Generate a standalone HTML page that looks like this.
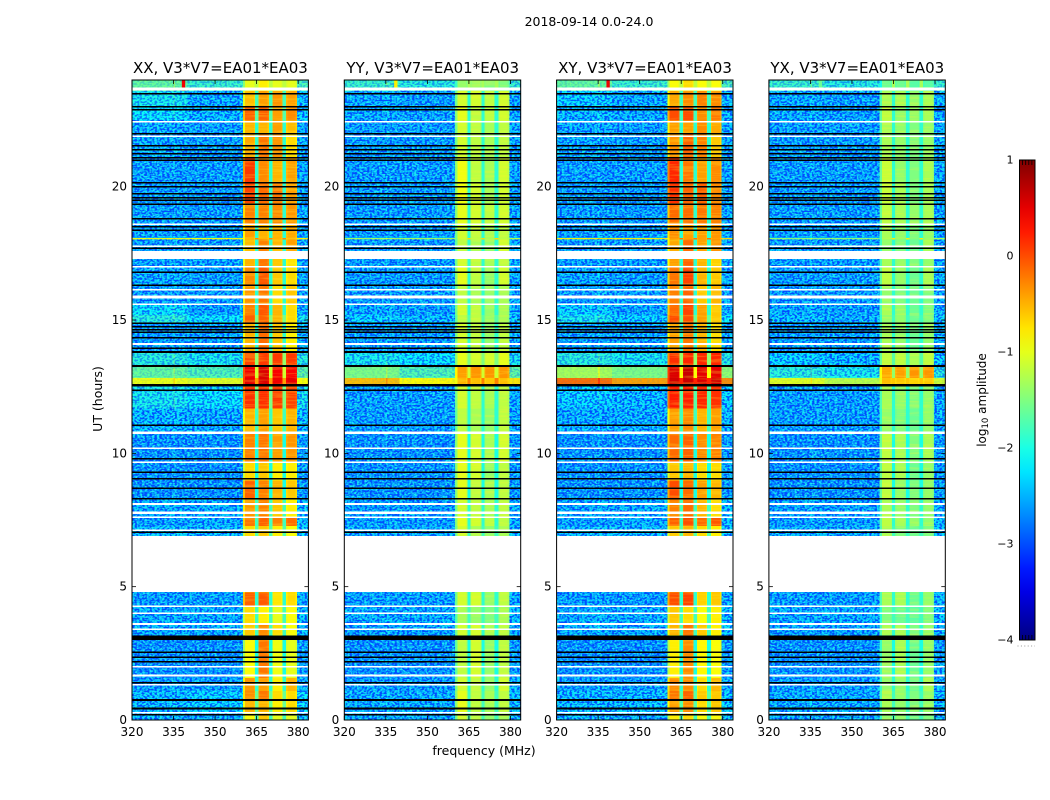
<!DOCTYPE html>
<html lang="en">
<head>
<meta charset="utf-8">
<title>2018-09-14 amplitude spectrogram</title>
<style>
html,body{margin:0;padding:0;background:#fff;}
body{width:1050px;height:800px;overflow:hidden;}
svg{display:block;}
text{font-family:"DejaVu Sans","Liberation Sans",sans-serif;fill:#000;}
</style>
</head>
<body>
<svg id="chart" xmlns="http://www.w3.org/2000/svg" width="1050" height="800" viewBox="0 0 1050 800">
  <defs>
    <filter id="speckle-dark" filterUnits="userSpaceOnUse" x="0" y="0" width="1050" height="800" color-interpolation-filters="sRGB">
      <feTurbulence type="fractalNoise" baseFrequency="0.4 0.55" numOctaves="1" seed="4"/>
      <feColorMatrix type="matrix" values="0 0 0 0 0  0 0 0 0 0.28  0 0 0 0 1  7 0 0 0 -3.2"/>
      <feComposite in2="SourceGraphic" operator="in"/>
    </filter>
    <filter id="speckle-light" filterUnits="userSpaceOnUse" x="0" y="0" width="1050" height="800" color-interpolation-filters="sRGB">
      <feTurbulence type="fractalNoise" baseFrequency="0.42 0.58" numOctaves="1" seed="11"/>
      <feColorMatrix type="matrix" values="0 0 0 0 0.1  0 0 0 0 0.92  0 0 0 0 0.95  7 0 0 0 -3.2"/>
      <feComposite in2="SourceGraphic" operator="in"/>
    </filter>
    <filter id="band-streaks" filterUnits="userSpaceOnUse" x="0" y="0" width="1050" height="800" color-interpolation-filters="sRGB">
      <feTurbulence type="fractalNoise" baseFrequency="0.03 0.45" numOctaves="2" seed="7"/>
      <feColorMatrix type="matrix" values="0 0 0 0 1  0 0 0 0 0.95  0 0 0 0 0.2  5 0 0 0 -2.4"/>
      <feComposite in2="SourceGraphic" operator="in"/>
    </filter>
    <linearGradient id="colorbar-gradient" x1="0" y1="1" x2="0" y2="0"></linearGradient>
  </defs>
  <text x="589" y="26" font-size="12.5" text-anchor="middle">2018-09-14 0.0-24.0</text>
  <g id="panels"></g>
  <text transform="translate(102,399) rotate(-90)" font-size="12.5" text-anchor="middle">UT (hours)</text>
  <text x="484" y="755" font-size="12.5" text-anchor="middle">frequency (MHz)</text>
  <g id="colorbar"></g>
  <text transform="translate(986,400) rotate(-90)" font-size="12" text-anchor="middle">log<tspan font-size="8.5" dy="2">10</tspan><tspan dy="-2"> amplitude</tspan></text>
</svg>
<script>
// Axis tick labels
const freqTicks = [320, 335, 350, 365, 380];
const timeTicks = [0, 5, 10, 15, 20];
const colorTicks = [1, 0, -1, -2, -3, -4];
const panelTitles = ["XX, V3*V7=EA01*EA03", "YY, V3*V7=EA01*EA03", "XY, V3*V7=EA01*EA03", "YX, V3*V7=EA01*EA03"];

// UT hour boundaries of the time segments
const segmentEdges = [0,.3,.75,1.1,1.6,3,3.2,3.6,4.3,4.8,6.9,7.3,7.6,8.3,9,9.7,10.8,11.7,12.35,12.55,12.85,13.3,13.8,14.9,15.2,15.6,16.3,17,17.6,18.03,18.1,18.6,19.4,20.2,21.1,22,22.5,23,23.6,24];

// Frequency boundaries (MHz), the series each frequency column reads, and its level offset
const channelEdges = [320,335,335.6,340,350,360,360.8,364,364.4,365.6,366,369,369.5,370.7,371,374,374.3,375.7,376.2,379,379.6,384];
const channelSeries = [0,0,0,1,1,2,2,2,1,3,3,3,1,4,4,4,1,5,5,5,1];
const channelOffset = [0,.25,0,0,0,-.45,0,-.1,.6,-.1,0,-.1,.6,-.1,0,-.1,.6,-.1,0,-.1,.1];

// Flagged UT ranges
const blackFlags = [[.18,.22],[.42,.46],[.74,.78],[1.38,1.42],[2.18,2.22],[2.35,2.39],[2.53,2.57],[3,3.17],[7.03,7.07],[8.28,8.32],[8.68,8.72],[9.03,9.07],[9.28,9.32],[9.78,9.82],[11.02,11.08],[12.33,12.4],[12.5,12.6],[13.24,13.32],[13.79,13.83],[13.93,13.97],[14.33,14.37],[14.53,14.57],[14.63,14.67],[14.73,14.77],[14.85,14.91],[16.28,16.34],[16.78,16.82],[17.68,17.72],[18.35,18.39],[18.48,18.52],[18.78,18.82],[19.33,19.37],[19.48,19.52],[19.58,19.62],[19.73,19.77],[19.98,20.02],[20.13,20.17],[20.98,21.02],[21.08,21.12],[21.23,21.27],[21.38,21.42],[21.53,21.57],[21.98,22.02],[22.88,22.92],[22.98,23.02],[23.48,23.52]];
const whiteFlags = [[.26,.3],[1.29,1.35],[1.63,1.7],[1.99,2.03],[3.38,3.44],[3.59,3.63],[3.99,4.03],[4.25,4.29],[4.8,6.9],[7.11,7.15],[7.59,7.63],[7.73,7.81],[8.09,8.13],[9.65,9.69],[10.18,10.22],[10.73,10.81],[14.09,14.13],[15.58,15.62],[15.81,15.91],[16.13,16.17],[16.99,17.03],[17.28,17.58],[17.75,17.79],[18.58,18.62],[21.88,21.92],[22.43,22.47],[23.6,23.71]];

// Spike near the top of each panel: frequency (MHz), start hour, level per panel
const spikeFreq = [338, 339.2];
const spikeHours = [23.6, 24];
const spikeLevels = [0.45, -0.8, 0.45, -1.6];

// XX levels, log10 amplitude, per time segment
const xxLowL = [-2.3,-2.3,-2.3,-2.5,-2.6,-2.6,-2.4,-2.4,-2.5,-2.5,-2.3,-2.5,-2.4,-2.6,-2.6,-2.6,-2.3,-2,-2,-.95,-1.6,-1.9,-2.5,-1.9,-2.1,-2.5,-2.4,-2.5,-2.5,-.9,-2.5,-2.5,-2.5,-2.5,-2.4,-2.4,-2.1,-2,-1.6];
const xxLowR = [-2.4,-2.2,-2.2,-2.5,-2.6,-2.6,-2.4,-2.4,-2.5,-2.5,-2.3,-2.4,-2.4,-2.6,-2.6,-2.6,-2.4,-2.1,-2.1,-1,-1.7,-2,-2.5,-2.1,-2.5,-2.5,-2.5,-2.5,-2.5,-.9,-2.5,-2.5,-2.5,-2.5,-2.5,-2.5,-2.3,-2.4,-1.8];
const xxA = [-.9,-.5,-.3,-.35,-.9,-.9,-.6,-.7,-.1,-.5,-.7,-.2,-.35,-.1,-.7,-.25,-.5,.15,.15,.5,.45,.05,-.5,-.1,-.25,-.35,-.3,-.5,-.55,-.5,-.4,-.25,.05,.1,-.45,-.5,-.1,-.55,-1];
const xxB = [-.6,-.5,-.2,-.4,-.2,-.2,-.3,-.8,-.05,-.5,-.6,-.1,-.25,-.25,-.6,-.2,-.4,.15,.15,.55,.55,.1,-.15,-.1,-.05,-.2,-.05,-.2,-.25,-.5,-.5,-.25,-.15,-.3,-.2,-.5,-.1,-.4,-.8];
const xxC = [-1,-.8,-.7,-.8,-.95,-.95,-.7,-1,-.75,-.7,-.8,-.25,-.6,-.5,-.8,-.4,-.6,.1,.1,.45,.4,.1,-.6,-.5,-.5,-.7,-.6,-.6,-.5,-.5,-.5,-.3,-.2,-.5,-.35,-.4,-.4,-.35,-1];
const xxD = [-1,-.7,-.7,-.5,-1,-1,-.9,-.9,-.7,-.7,-.9,-.15,-.8,-.6,-.8,-.35,-.5,.05,.05,.5,.4,.1,-.8,-.7,-.7,-.6,-.7,-.75,-.4,-.5,-.45,-.35,-.4,-.4,-.7,-.55,-.3,-.4,-1];

// YY levels
const yyLowL = [-2.4,-2.4,-2.4,-2.5,-2.6,-2.6,-2.5,-2.4,-2.5,-2.5,-2.4,-2.5,-2.5,-2.6,-2.6,-2.6,-2.5,-2.5,-2.5,-.55,-1.5,-2,-2.5,-2.2,-2.4,-2.5,-2.5,-2.5,-2.5,-1.3,-2.5,-2.5,-2.5,-2.5,-2.5,-2.5,-2.4,-2.4,-1.8];
const yyLowR = [-2.4,-2.4,-2.4,-2.5,-2.6,-2.6,-2.5,-2.4,-2.5,-2.5,-2.4,-2.5,-2.5,-2.6,-2.6,-2.6,-2.5,-2.5,-2.5,-.85,-1.7,-2.1,-2.5,-2.3,-2.5,-2.5,-2.5,-2.5,-2.5,-1.3,-2.5,-2.5,-2.5,-2.5,-2.5,-2.5,-2.5,-2.5,-1.9];
const yyA = [-1.1,-1,-1,-1.1,-1.2,-1.2,-1.1,-1.3,-1.1,-1.2,-1.1,-1,-1.1,-1,-1,-1,-1.2,-1.1,-1.1,-.5,-.4,-1,-1.1,-1.2,-1.1,-1.2,-1,-1.1,-1.2,-1.1,-1.1,-1,-.95,-.95,-1.1,-1.1,-1,-1.1,-1.4];
const yyB = [-1.2,-1.2,-1.2,-1.2,-1.1,-1.1,-1.1,-1.4,-1.1,-1.2,-1.3,-1.1,-1.2,-1.2,-1.1,-1.1,-1.3,-1.2,-1.2,-.55,-.35,-1.1,-1.2,-1.2,-1.2,-1.3,-1.2,-1.2,-1.3,-1.2,-1.2,-1.1,-1.1,-1.2,-1.2,-1.2,-1.2,-1.1,-1.4];
const yyC = [-1.4,-1.3,-1.3,-1.4,-1.4,-1.4,-1.3,-1.5,-1.4,-1.3,-1.4,-1.2,-1.3,-1.3,-1.4,-1.3,-1.4,-1.3,-1.3,-.6,-.35,-1.1,-1.4,-1.4,-1.4,-1.4,-1.4,-1.3,-1.4,-1.3,-1.3,-1.2,-1.3,-1.3,-1.3,-1.3,-1.2,-1.2,-1.5];
const yyD = [-1.3,-1.2,-1.2,-1.1,-1.2,-1.2,-1.2,-1.3,-1.2,-1.2,-1.3,-1.2,-1.2,-1.2,-1.2,-1.1,-1.2,-1.2,-1.2,-.55,-.35,-1,-1.2,-1.3,-1.3,-1.3,-1.1,-1.2,-1.1,-1.2,-1.2,-1.1,-1.1,-1.1,-1.2,-1.2,-1.1,-1.1,-1.5];

// XY levels
const xyLowL = [-2.3,-2.3,-2.3,-2.5,-2.6,-2.6,-2.4,-2.4,-2.5,-2.5,-2.3,-2.5,-2.4,-2.6,-2.6,-2.6,-2.4,-2.2,-2.2,-.15,-1.3,-1.9,-2.5,-2,-2.2,-2.5,-2.4,-2.5,-2.5,-.8,-2.5,-2.5,-2.5,-2.5,-2.4,-2.4,-2.3,-2.2,-1.6];
const xyLowR = [-2.4,-2.3,-2.3,-2.5,-2.6,-2.6,-2.4,-2.4,-2.5,-2.5,-2.3,-2.4,-2.4,-2.6,-2.6,-2.6,-2.4,-2.3,-2.3,-.4,-1.5,-2,-2.5,-2.2,-2.5,-2.5,-2.5,-2.5,-2.5,-.8,-2.5,-2.5,-2.5,-2.5,-2.5,-2.5,-2.4,-2.4,-1.8];
const xyA = [-.8,-.4,-.2,-.3,-.8,-.8,-.5,-.6,0,-.4,-.6,-.1,-.25,0,-.6,-.15,-.4,.25,.25,.6,.55,.15,-.4,0,-.15,-.25,-.2,-.4,-.45,-.4,-.3,-.15,.15,.2,-.35,-.4,0,-.45,-.9];
const xyB = [-.7,-.3,-.1,-.3,-.3,-.3,-.2,-.7,.05,-.4,-.5,0,-.15,-.15,-.5,-.1,-.3,.25,.25,.65,.65,.2,-.2,0,.05,-.1,.05,-.1,-.15,-.4,-.4,-.15,-.1,-.2,-.1,-.4,0,-.3,-.7];
const xyC = [-.9,-.7,-.6,-.7,-.85,-.85,-.6,-.9,-.65,-.6,-.7,-.15,-.5,-.4,-.7,-.3,-.5,.2,.2,.55,.5,.2,-.5,-.4,-.4,-.6,-.5,-.5,-.4,-.4,-.4,-.2,-.1,-.4,-.25,-.3,-.3,-.25,-.9];
const xyD = [-.9,-.6,-.6,-.5,-.9,-.9,-.8,-.8,-.6,-.6,-.8,-.05,-.7,-.5,-.7,-.25,-.4,.15,.15,.6,.5,.2,-.7,-.6,-.6,-.5,-.6,-.65,-.3,-.4,-.35,-.25,-.3,-.3,-.6,-.45,-.2,-.3,-.9];

// YX levels
const yxLowL = [-2.4,-2.4,-2.4,-2.5,-2.6,-2.6,-2.5,-2.4,-2.5,-2.5,-2.4,-2.5,-2.5,-2.6,-2.6,-2.6,-2.5,-2.5,-2.5,-1,-1.9,-2.2,-2.5,-2.3,-2.4,-2.5,-2.5,-2.5,-2.5,-1.4,-2.5,-2.5,-2.5,-2.5,-2.5,-2.5,-2.4,-2.4,-1.8];
const yxLowR = [-2.4,-2.4,-2.4,-2.5,-2.6,-2.6,-2.5,-2.4,-2.5,-2.5,-2.4,-2.5,-2.5,-2.6,-2.6,-2.6,-2.5,-2.5,-2.5,-1.2,-2,-2.3,-2.5,-2.4,-2.5,-2.5,-2.5,-2.5,-2.5,-1.4,-2.5,-2.5,-2.5,-2.5,-2.5,-2.5,-2.5,-2.5,-1.9];
const yxA = [-1.4,-1.3,-1.3,-1.4,-1.4,-1.4,-1.3,-1.5,-1.3,-1.4,-1.3,-1.2,-1.3,-1.2,-1.2,-1.2,-1.4,-1.3,-1.3,-.55,-.45,-1.2,-1.3,-1.4,-1.3,-1.4,-1.2,-1.3,-1.4,-1.3,-1.3,-1.2,-1.15,-1.15,-1.3,-1.3,-1.2,-1.3,-1.6];
const yxB = [-1.4,-1.4,-1.4,-1.4,-1.3,-1.3,-1.3,-1.6,-1.3,-1.4,-1.5,-1.3,-1.4,-1.4,-1.3,-1.3,-1.5,-1.4,-1.4,-.6,-.4,-1.2,-1.4,-1.4,-1.4,-1.5,-1.4,-1.4,-1.5,-1.4,-1.4,-1.3,-1.3,-1.4,-1.4,-1.4,-1.4,-1.3,-1.6];
const yxC = [-1.6,-1.5,-1.5,-1.6,-1.6,-1.6,-1.5,-1.7,-1.6,-1.5,-1.6,-1.4,-1.5,-1.5,-1.6,-1.5,-1.6,-1.5,-1.5,-.65,-.35,-1.3,-1.6,-1.6,-1.6,-1.6,-1.6,-1.5,-1.6,-1.5,-1.5,-1.4,-1.5,-1.5,-1.5,-1.5,-1.4,-1.4,-1.7];
const yxD = [-1.5,-1.4,-1.4,-1.3,-1.4,-1.4,-1.4,-1.5,-1.4,-1.4,-1.5,-1.4,-1.4,-1.4,-1.4,-1.3,-1.4,-1.4,-1.4,-.6,-.35,-1.2,-1.4,-1.5,-1.5,-1.5,-1.3,-1.4,-1.3,-1.4,-1.4,-1.3,-1.3,-1.3,-1.4,-1.4,-1.3,-1.3,-1.7];

const panelSeries = [
  [xxLowL, xxLowR, xxA, xxB, xxC, xxD],
  [yyLowL, yyLowR, yyA, yyB, yyC, yyD],
  [xyLowL, xyLowR, xyA, xyB, xyC, xyD],
  [yxLowL, yxLowR, yxA, yxB, yxC, yxD]
];
const panelKeys = ["xx", "yy", "xy", "yx"];

// Layout (not data)
const panelLeft = [132, 344.3, 556.6, 768.9];
const panelWidth = 176.4;
const plotTop = 80, plotBottom = 720;
const freqMin = 320, freqMax = 383.7, hourMin = 0, hourMax = 24;
const colorMin = -4, colorMax = 1;
const barX = 1019.5, barW = 15.5, barTop = 160, barBottom = 640;

const NS = "http://www.w3.org/2000/svg";
function make(tag, attrs, parent) {
  const el = document.createElementNS(NS, tag);
  for (const k in attrs) el.setAttribute(k, attrs[k]);
  parent.appendChild(el);
  return el;
}
function yScale(h) { return plotBottom - (h - hourMin) / (hourMax - hourMin) * (plotBottom - plotTop); }
function xScale(f, left) { return left + (f - freqMin) / (freqMax - freqMin) * panelWidth; }
function barScale(v) { return barBottom - (v - colorMin) / (colorMax - colorMin) * (barBottom - barTop); }
function textureStrength(level) { return Math.max(0.08, Math.min(1, (-1.4 - level) / 0.9)); }

function jetPart(t, a) { return Math.max(0, Math.min(1, 1.5 - Math.abs(4 * t - a))); }
function jet(v) {
  const t = Math.max(0, Math.min(1, (v - colorMin) / (colorMax - colorMin)));
  const r = Math.round(255 * jetPart(t, 3));
  const g = Math.round(255 * jetPart(t, 2));
  const b = Math.round(255 * jetPart(t, 1));
  return "rgb(" + r + "," + g + "," + b + ")";
}

const panelsRoot = document.getElementById("panels");

panelKeys.forEach(function (key, p) {
  const left = panelLeft[p];
  const right = left + panelWidth;
  const series = panelSeries[p];

  const g = make("g", {}, panelsRoot);
  
  

  const clipId = "clip-" + key;
  const clip = make("clipPath", { id: clipId }, g);
  make("rect", { x: left, y: plotTop, width: panelWidth, height: plotBottom - plotTop }, clip);

  const heat = make("g", { "clip-path": "url(#" + clipId + ")", "shape-rendering": "crispEdges" }, g);
  
  

  for (let s = 0; s < segmentEdges.length - 1; s++) {
    const y0 = yScale(segmentEdges[s + 1]);
    const y1 = yScale(segmentEdges[s]);
    for (let c = 0; c < channelEdges.length - 1; c++) {
      const x0 = xScale(channelEdges[c], left);
      const x1 = xScale(channelEdges[c + 1], left);
      const value = series[channelSeries[c]][s] + channelOffset[c];
      const cell = make("rect", { x: x0, y: y0, width: x1 - x0 + 0.5, height: y1 - y0 + 0.5, fill: jet(value) }, heat);
      
      
    }
  }

  // Noise texture on the quiet channels, fading out where the row is bright
  const tex = make("g", { "clip-path": "url(#" + clipId + ")" }, g);
  
  
  [[320, 340, 0], [340, 360, 1], [379.6, 384, 1]].forEach(function (span) {
    const x0 = xScale(span[0], left), x1 = xScale(span[1], left);
    for (let s = 0; s < segmentEdges.length - 1; s++) {
      const y0 = yScale(segmentEdges[s + 1]);
      const h = yScale(segmentEdges[s]) - y0;
      const strength = textureStrength(series[span[2]][s]);
      make("rect", { x: x0, y: y0, width: x1 - x0, height: h, fill: "#000", filter: "url(#speckle-light)", opacity: 0.95 * strength }, tex);
      make("rect", { x: x0, y: y0, width: x1 - x0, height: h, fill: "#000", filter: "url(#speckle-dark)", opacity: 0.95 * strength }, tex);
    }
  });
  // Faint row streaks on the four bright blocks only, leaving the gaps between them clear
  [[360.8, 364.4], [365.6, 369.5], [370.7, 374.3], [375.7, 379.6]].forEach(function (block) {
    const x0 = xScale(block[0], left), x1 = xScale(block[1], left);
    make("rect", { x: x0, y: plotTop, width: x1 - x0, height: plotBottom - plotTop, fill: "#000", filter: "url(#band-streaks)", opacity: 0.25 }, tex);
  });

  const spike = make("rect", {
    x: xScale(spikeFreq[0], left), y: yScale(spikeHours[1]),
    width: xScale(spikeFreq[1], left) - xScale(spikeFreq[0], left),
    height: yScale(spikeHours[0]) - yScale(spikeHours[1]), fill: jet(spikeLevels[p])
  }, g);
  
  

  function drawFlags(list, color, name) {
    list.forEach(function (range) {
      const y0 = yScale(range[1]), y1 = yScale(range[0]);
      const r = make("rect", { x: left, y: y0, width: panelWidth, height: Math.max(1.6, y1 - y0), fill: color, "shape-rendering": "crispEdges" }, g);
      
      
    });
  }
  drawFlags(whiteFlags, "#ffffff", "flagged-row-white");
  drawFlags(blackFlags, "#000000", "flagged-row-black");

  const frame = make("rect", { x: left, y: plotTop, width: panelWidth, height: plotBottom - plotTop, fill: "none", stroke: "#000", "stroke-width": 1 }, g);
  
  

  freqTicks.forEach(function (f) {
    const x = xScale(f, left);
    const t1 = make("line", { x1: x, x2: x, y1: plotBottom, y2: plotBottom - 4, stroke: "#000", "stroke-width": 0.8 }, g);
    
    
    const t2 = make("line", { x1: x, x2: x, y1: plotTop, y2: plotTop + 4, stroke: "#000", "stroke-width": 0.8 }, g);
    
    
    const label = make("text", { x: x, y: plotBottom + 16, "font-size": 12, "text-anchor": "middle" }, g);
    label.textContent = String(f);
    
    
  });

  timeTicks.forEach(function (h) {
    const y = yScale(h);
    const t1 = make("line", { x1: left, x2: left + 4, y1: y, y2: y, stroke: "#000", "stroke-width": 0.8 }, g);
    
    
    const t2 = make("line", { x1: right, x2: right - 4, y1: y, y2: y, stroke: "#000", "stroke-width": 0.8 }, g);
    
    
    const label = make("text", { x: left - 5, y: y + 4, "font-size": 12, "text-anchor": "end" }, g);
    label.textContent = String(h);
    
    
  });

  const title = make("text", { x: left + panelWidth / 2 + 0.2, y: 73, "font-size": 15, "text-anchor": "middle" }, g);
  title.textContent = panelTitles[p];
  
  
});

// Colorbar
const grad = document.getElementById("colorbar-gradient");
const colorbarLevels = [-4, -3.75, -3.5, -3.25, -3, -2.75, -2.5, -2.25, -2, -1.75, -1.5, -1.25, -1, -.75, -.5, -.25, 0, .25, .5, .75, 1];
colorbarLevels.forEach(function (v) {
  make("stop", { offset: ((v - colorMin) / (colorMax - colorMin) * 100) + "%", "stop-color": jet(v) }, grad);
});
const cb = document.getElementById("colorbar");
const barRect = make("rect", { x: barX, y: barTop, width: barW, height: barBottom - barTop, fill: "url(#colorbar-gradient)", stroke: "#000", "stroke-width": 1 }, cb);



colorTicks.forEach(function (v) {
  const y = barScale(v);
  const label = make("text", { x: barX - 6, y: y + 3.5, "font-size": 11, "text-anchor": "end" }, cb);
  label.textContent = String(v).replace("-", "\u2212");
  
  
});

[0.2, 0.4, 0.6, 0.8].forEach(function (frac) {
  const x = barX + barW * frac;
  const t1 = make("line", { x1: x, x2: x, y1: barTop, y2: barTop + 5, stroke: "#000", "stroke-width": 0.8 }, cb);
  
  
  const t2 = make("line", { x1: x, x2: x, y1: barBottom, y2: barBottom - 5, stroke: "#000", "stroke-width": 0.8 }, cb);
  
  
});

const dots = make("line", { x1: barX - 2, x2: barX + barW, y1: 646, y2: 646, stroke: "#999", "stroke-width": 1, "stroke-dasharray": "1 2.4" }, cb);


</script>
</body>
</html>
